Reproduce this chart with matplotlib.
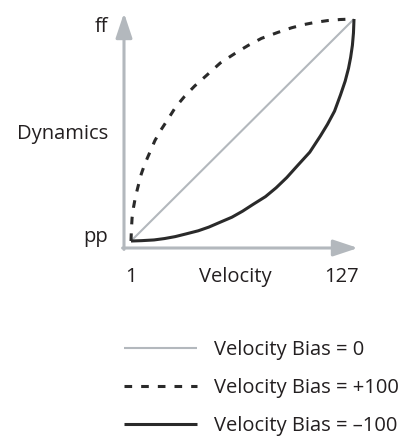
"""Velocity Bias 曲线示意图"""
import matplotlib
matplotlib.use('Agg')
import matplotlib.pyplot as plt

plt.rcParams['font.family'] = ['Open Sans', 'DejaVu Sans']
plt.rcParams['lines.scale_dashes'] = False

# 数据：横轴为 Velocity (1..127)，纵轴为 Dynamics (pp=1 .. ff=127)
linear_vel = [1, 127]
linear_dyn = [1, 127]

# Velocity Bias = -100（下凸曲线）
minus_vel = [1, 7, 14, 20, 26, 32, 39, 45, 51, 58, 64, 70, 77, 83, 89, 95,
             102, 108, 112, 116, 119.4, 122, 123.9, 125.1, 126.1, 126.7, 127]
minus_dyn = [1, 1.2, 1.6, 2.4, 3.5, 5.0, 6.8, 8.9, 11.5, 14.5, 17.9, 21.8,
             26.2, 31.2, 37.0, 43.7, 51.4, 60.6, 67.2, 74.7, 84.0, 91.7,
             99.0, 105.2, 112.1, 119.1, 127]

# Velocity Bias = +100（上凸虚线）
plus_vel = [1, 1.2, 1.6, 2.4, 3.5, 5.0, 6.8, 8.9, 11.5, 14.5, 17.9, 21.8,
            26.2, 31.2, 37.0, 43.7, 51.4, 60.6, 67.2, 74.7, 84.0, 91.7,
            99.0, 105.2, 112.1, 119.1, 127]
plus_dyn = [1, 7, 14, 20, 26, 32, 39, 45, 51, 58, 64, 70, 77, 83, 89, 95,
            102, 108, 112, 116, 119.4, 122, 123.9, 125.1, 126.1, 126.7, 127]

labels = ['Velocity Bias = 0', 'Velocity Bias = +100', 'Velocity Bias = \u2013100']

W, H = 410, 444
GRAY = '#b3b8bd'
INK = '#2a2a2a'
TEXT = '#231f20'
FS = 14.5


def px(x, y):
    """像素坐标 -> figure 坐标"""
    return x / W, 1 - y / H


fig = plt.figure(figsize=(W / 100, H / 100), dpi=100)
# 坐标轴区域：x 124..358 px, y 13..248 px
ax = fig.add_axes([124 / W, 1 - 248 / H, 234 / W, 235 / H])
ax.set_xlim(-2.96, 129.26)
ax.set_ylim(-2.97, 130.4)
ax.axis('off')

l0, = ax.plot(linear_vel, linear_dyn, color=GRAY, lw=1.5, solid_capstyle='butt')
l1, = ax.plot(plus_vel, plus_dyn, color=INK, lw=2.2, linestyle=(0, (5.5, 6.5)))
l2, = ax.plot(minus_vel, minus_dyn, color=INK, lw=2.2, solid_capstyle='butt')

# 带箭头的坐标轴
arrow = dict(arrowstyle='-|>,head_length=1.5,head_width=0.5', color=GRAY,
             lw=2.2, mutation_scale=10, shrinkA=0, shrinkB=0)
ax.annotate('', xy=(0, 1), xytext=(0, -0.006), xycoords='axes fraction',
            arrowprops=arrow, annotation_clip=False)
ax.annotate('', xy=(1, 0), xytext=(-0.006, 0), xycoords='axes fraction',
            arrowprops=arrow, annotation_clip=False)

# 文字标签
fig.text(*px(108, 32), 'ff', ha='right', va='baseline', fontsize=FS, color=TEXT)
fig.text(*px(108, 139), 'Dynamics', ha='right', va='baseline', fontsize=FS, color=TEXT)
fig.text(*px(108, 242), 'pp', ha='right', va='baseline', fontsize=FS, color=TEXT)
fig.text(*px(131, 282), '1', ha='center', va='baseline', fontsize=FS, color=TEXT)
fig.text(*px(235.5, 282), 'Velocity', ha='center', va='baseline', fontsize=FS, color=TEXT)
fig.text(*px(341, 282), '127', ha='center', va='baseline', fontsize=FS, color=TEXT)

# 图例
fig.legend([l0, l1, l2], labels, loc='upper left', bbox_to_anchor=px(124, 340),
           frameon=False, fontsize=FS, handlelength=3.6, handletextpad=0.85,
           labelspacing=0.9, borderpad=0, borderaxespad=0, labelcolor=TEXT)

fig.savefig('out.png', dpi=100, facecolor='white')
